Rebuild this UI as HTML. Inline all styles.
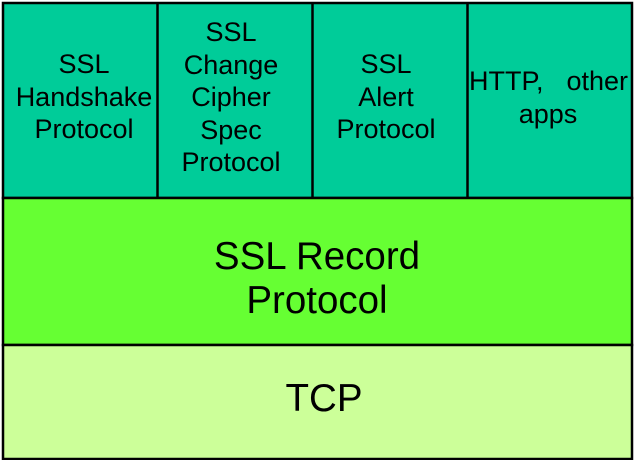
<!DOCTYPE html>
<html><head><style>html,body{margin:0;padding:0;background:#fff}svg{display:block}</style></head>
<body>
<svg width="635" height="460" viewBox="0 0 635 460" xmlns="http://www.w3.org/2000/svg" font-family="Liberation Sans, sans-serif" fill="#000">
<rect x="3" y="3" width="629" height="195" fill="#00CC99" stroke="#000" stroke-width="2.5"/>
<rect x="3" y="198" width="629" height="147" fill="#66FF33" stroke="#000" stroke-width="2.5"/>
<rect x="3" y="345" width="629" height="114" fill="#CCFF99" stroke="#000" stroke-width="2.5"/>
<line x1="157.5" y1="3" x2="157.5" y2="198" stroke="#000" stroke-width="2.5"/>
<line x1="312.5" y1="3" x2="312.5" y2="198" stroke="#000" stroke-width="2.5"/>
<line x1="467.5" y1="3" x2="467.5" y2="198" stroke="#000" stroke-width="2.5"/>
<g font-size="27" text-anchor="middle">
<text x="84" y="73">SSL</text><text x="84" y="106">Handshake</text><text x="84" y="138">Protocol</text>
<text x="231" y="41">SSL</text><text x="231" y="74">Change</text><text x="231" y="106">Cipher</text><text x="231" y="139">Spec</text><text x="231" y="171">Protocol</text>
<text x="386" y="73">SSL</text><text x="386" y="106">Alert</text><text x="386" y="138">Protocol</text>
<text x="548" y="123">apps</text>
</g>
<text x="469" y="90" font-size="27">HTTP,</text>
<text x="628" y="90" font-size="27" text-anchor="end">other</text>
<g font-size="38.5" text-anchor="middle">
<text x="317" y="269">SSL Record</text><text x="317" y="313">Protocol</text>
<text x="324" y="411">TCP</text>
</g>
</svg>
</body></html>
